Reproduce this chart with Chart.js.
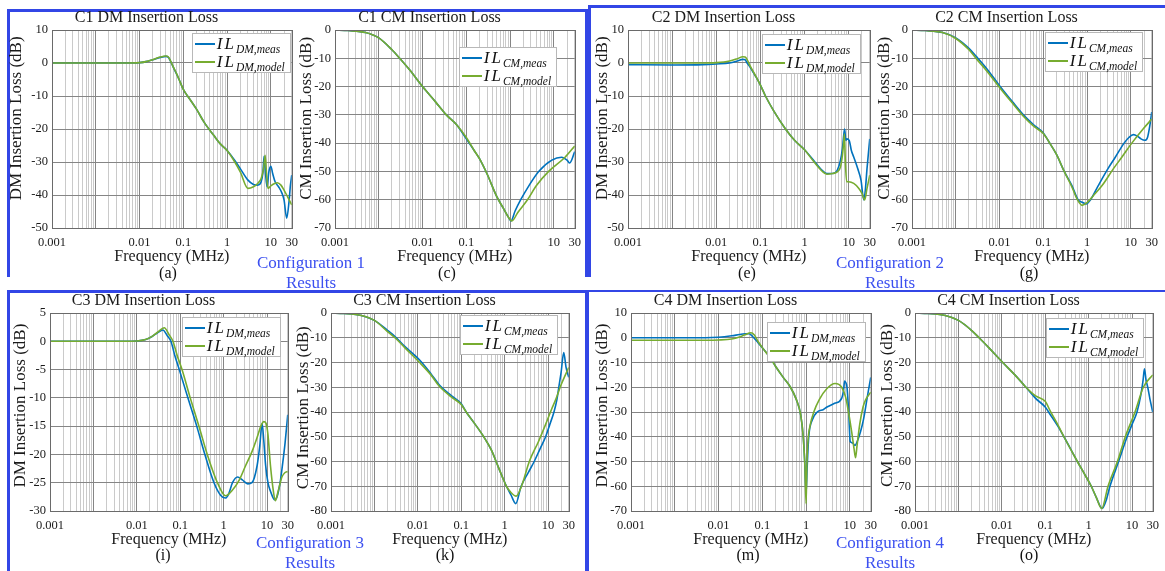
<!DOCTYPE html>
<html>
<head>
<meta charset="utf-8">
<script src="https://cdn.jsdelivr.net/npm/chart.js@4.4.1/dist/chart.umd.min.js"></script>
<style>
  html, body { margin: 0; padding: 0; background: #fff; }
  #page { position: relative; width: 1165px; height: 571px; overflow: hidden; background: #fff;
          font-family: "Liberation Serif", "DejaVu Serif", serif; }
  .panel { position: absolute; }
  .frame { position: absolute; border: 0 solid #3246e6; box-sizing: border-box; }
  .caption { position: absolute; font-size: 16px; color: #111; transform: translate(-50%, -50%); white-space: nowrap; }
  .config { position: absolute; width: 170px; color: #3c50f0; font-size: 17px; line-height: 20px;
            text-align: center; overflow: hidden; }
  .legend { position: absolute; background: #fff; border: 1px solid #b8b8b8; padding: 1px 5px 1px 2px; }
  .legend .row { display: flex; align-items: center; height: 18px; white-space: nowrap; }
  .legend .swatch { width: 20px; height: 2px; margin-right: 2px; }
  .legend .il { font-style: italic; font-size: 17px; letter-spacing: 2px; color: #111; }
  .legend sub { font-size: 11.5px; font-style: italic; vertical-align: -4px; letter-spacing: 0; line-height: 0; }
</style>
</head>
<body>
<div id="page"></div>
<script>
// x axis: log frequency (MHz), tick labels as printed on the figure
const xTickValues = [1e-4, 0.01, 0.1, 1, 10, 30];
const xTickLabels = ['0.001', '0.01', '0.1', '1', '10', '30'];

// ---- C1 ----
const c1DmMeasFreq = [1e-4, 1e-3, 0.005, 0.01, 0.015, 0.02, 0.03, 0.04, 0.045, 0.05, 0.06, 0.07, 0.08, 0.1, 0.15, 0.2, 0.3, 0.5, 0.7, 1, 1.5, 2, 3, 4, 5, 6, 6.6, 7, 7.5, 8.2, 9, 10, 11, 12.5, 15, 18, 20, 23, 26, 28, 30];
const c1DmMeasIL = [0, 0, 0, 0.1, 0.5, 1.0, 1.7, 2.0, 1.8, 0.8, -1.5, -3.3, -5, -8, -11.5, -14, -18, -22, -24.5, -26.5, -29.5, -32, -35.5, -36.8, -37, -36, -33, -28.3, -33, -37.5, -33, -31.3, -33.5, -36, -37.5, -39.5, -41.5, -47, -42, -37, -34];
const c1DmModelFreq = [1e-4, 1e-3, 0.005, 0.01, 0.015, 0.02, 0.03, 0.04, 0.045, 0.05, 0.06, 0.07, 0.08, 0.1, 0.15, 0.2, 0.3, 0.5, 0.7, 1, 1.5, 2, 3, 4, 5, 6, 6.8, 7.4, 8, 8.6, 9.5, 11, 14, 17, 20, 24, 30];
const c1DmModelIL = [0, 0, 0, 0.1, 0.5, 1.0, 1.8, 2.1, 1.9, 0.9, -1.4, -3.2, -5, -8, -11.5, -14, -18, -22, -24.5, -26.5, -30, -33, -38, -37.5, -36.5, -35, -32, -28, -34, -38, -37.5, -36.8, -36.3, -37, -38.5, -40.5, -43];

const c1CmMeasFreq = [1e-4, 2e-4, 5e-4, 1e-3, 2e-3, 3e-3, 5e-3, 0.01, 0.02, 0.035, 0.06, 0.1, 0.15, 0.2, 0.3, 0.5, 0.7, 0.9, 1.05, 1.3, 1.75, 2.7, 4.5, 9, 15, 20, 23, 30];
const c1CmMeasIL = [0, -0.2, -0.9, -2.8, -7, -10, -14, -20, -25.5, -30, -33.5, -38.5, -42.5, -45.5, -51, -59, -63, -66, -67.5, -64, -60, -55, -50, -46, -45, -46, -47, -43];
const c1CmModelFreq = [1e-4, 2e-4, 5e-4, 1e-3, 2e-3, 3e-3, 5e-3, 0.01, 0.02, 0.035, 0.06, 0.1, 0.15, 0.2, 0.3, 0.5, 0.7, 0.9, 1.1, 1.5, 2.5, 4, 7.6, 18, 30];
const c1CmModelIL = [0, -0.2, -0.9, -2.8, -7, -10, -14, -20, -25.5, -30, -33.5, -38, -42.5, -45.5, -51, -59, -63, -66, -67.5, -64.5, -60, -55, -50, -45, -41];

// ---- C2 ----
const c2DmMeasFreq = [1e-4, 1e-3, 0.005, 0.01, 0.02, 0.03, 0.04, 0.045, 0.05, 0.06, 0.07, 0.08, 0.1, 0.13, 0.2, 0.37, 0.6, 1, 1.6, 2.5, 3.2, 4.3, 5.5, 6.5, 7.2, 7.7, 8.1, 8.6, 9.1, 10.3, 11.5, 13, 16, 19, 22, 24, 26, 30];
const c2DmMeasIL = [-0.5, -0.6, -0.5, -0.3, 0, 0.6, 1.1, 1.0, 0, -1.5, -3, -4.3, -6.7, -10, -14.5, -20, -23.5, -26.3, -29.5, -32.5, -33.5, -33.5, -32.5, -29.5, -26, -22, -20, -23.5, -23, -23.5, -26.5, -28.5, -32, -35.5, -41.5, -38, -32, -23];
const c2DmModelFreq = [1e-4, 1e-3, 0.005, 0.01, 0.02, 0.03, 0.04, 0.045, 0.05, 0.06, 0.07, 0.08, 0.1, 0.13, 0.2, 0.37, 0.6, 1, 1.6, 2.5, 3.2, 4.3, 5.5, 6.5, 7.2, 7.7, 8.0, 8.4, 9.0, 10, 13, 17, 20, 23, 26, 30];
const c2DmModelIL = [0, 0, 0, 0.1, 0.6, 1.3, 1.9, 1.8, 1.0, -1.2, -2.8, -4.2, -6.7, -10, -14.5, -20, -23.5, -26.3, -29.8, -32.8, -33.7, -33.5, -33, -31.5, -28, -24, -21.5, -30, -36, -36, -36.5, -38, -39.5, -41.5, -38, -34];

const c2CmMeasFreq = [1e-4, 2e-4, 5e-4, 1e-3, 2e-3, 3e-3, 5e-3, 0.01, 0.02, 0.035, 0.06, 0.1, 0.14, 0.2, 0.3, 0.45, 0.62, 0.8, 0.95, 1.2, 1.8, 3, 4.4, 7, 9, 11.5, 14, 17, 21, 24, 27, 30];
const c2CmMeasIL = [0, -0.2, -0.9, -2.8, -6.5, -9.5, -13.5, -19.7, -25.5, -30, -33.5, -36.4, -40, -44, -50, -55, -60, -61, -61.5, -60, -55, -49, -45, -40, -38, -37, -37.5, -38.5, -39, -38, -34, -29];
const c2CmModelFreq = [1e-4, 2e-4, 5e-4, 1e-3, 2e-3, 3e-3, 5e-3, 0.01, 0.02, 0.035, 0.06, 0.1, 0.14, 0.2, 0.3, 0.45, 0.6, 0.77, 1, 1.4, 2.2, 4, 6.2, 10.5, 19, 30];
const c2CmModelIL = [0, -0.2, -0.9, -3, -7, -10.3, -14.3, -20.3, -26, -30.5, -34, -36.6, -40, -44, -50, -55.5, -60, -62, -61, -58.5, -55, -49, -45, -40, -35, -31.5];

// ---- C3 ----
const c3DmMeasFreq = [1e-4, 1e-3, 5e-3, 0.01, 0.016, 0.023, 0.03, 0.04, 0.05, 0.061, 0.075, 0.095, 0.15, 0.24, 0.37, 0.6, 0.85, 1.1, 1.3, 1.6, 2.1, 2.7, 3.6, 4.5, 5.9, 6.8, 7.7, 8.4, 9.3, 10.5, 12, 15, 17, 20, 23, 26, 30];
const c3DmMeasIL = [0, 0, 0, 0.05, 0.3, 0.9, 1.5, 2.0, 1.0, 0, -2.5, -5, -10, -15, -20, -25, -27.2, -27.7, -27, -25, -24, -24.5, -25.2, -25, -22, -18.5, -14.5, -17.5, -22, -25, -26.5, -28, -27.5, -25, -21.5, -18, -13];
const c3DmModelFreq = [1e-4, 1e-3, 5e-3, 0.01, 0.016, 0.023, 0.03, 0.043, 0.055, 0.068, 0.085, 0.11, 0.17, 0.27, 0.42, 0.72, 1.1, 1.6, 2.3, 3.2, 4.5, 5.9, 7.2, 8.4, 9.5, 10.5, 12, 14, 15.5, 18, 22, 26, 30];
const c3DmModelIL = [0, 0, 0, 0.05, 0.3, 0.9, 1.6, 2.4, 1.2, 0, -2.5, -5, -10, -15, -20, -25, -27.3, -26.3, -24.5, -22, -19.5, -17, -15, -14.2, -14.5, -16.5, -22, -26.5, -28.2, -26.5, -24, -23.2, -23];

const c3CmMeasFreq = [1e-4, 2e-4, 5e-4, 1e-3, 2e-3, 3.2e-3, 5e-3, 0.011, 0.02, 0.031, 0.06, 0.1, 0.13, 0.2, 0.33, 0.5, 0.67, 0.9, 1.1, 1.4, 1.8, 2.4, 3.5, 4.8, 6.5, 8.8, 11, 13.7, 16, 17.7, 20, 23, 26, 30];
const c3CmMeasIL = [0, -0.2, -1, -3, -7, -10, -13.5, -19, -24.5, -29, -33.5, -36.7, -40, -44.5, -50, -55.5, -61, -66.5, -70, -73.5, -77, -70, -64.5, -60, -55, -50, -45, -40, -35, -30, -24, -16, -22, -26];
const c3CmModelFreq = [1e-4, 2e-4, 5e-4, 1e-3, 2e-3, 3.2e-3, 5e-3, 0.011, 0.02, 0.031, 0.06, 0.1, 0.13, 0.2, 0.33, 0.5, 0.67, 0.9, 1.1, 1.4, 1.85, 2.5, 3.7, 6, 8.8, 12, 15, 20, 30];
const c3CmModelIL = [0, -0.2, -1, -3, -7.5, -10.5, -14, -20, -25, -29.5, -34, -37, -40, -44.5, -50, -55.5, -61, -66.5, -70, -72.5, -74, -69.5, -60, -52, -45, -39, -35, -29, -22];

// ---- C4 ----
const c4DmMeasFreq = [1e-4, 1e-3, 5e-3, 0.01, 0.02, 0.03, 0.04, 0.05, 0.06, 0.08, 0.1, 0.15, 0.2, 0.3, 0.44, 0.6, 0.75, 0.86, 0.93, 1.0, 1.06, 1.15, 1.4, 1.8, 2.5, 3, 4.5, 6.5, 7.2, 7.6, 8.0, 8.6, 9.4, 10.2, 11.5, 13, 15, 17.5, 20.5, 25, 30];
const c4DmMeasIL = [0, 0, 0, 0.2, 0.8, 1.3, 1.6, 1.6, 0.5, -2, -4, -8, -11.5, -16, -20, -25, -31, -40, -50, -63, -52, -40, -33, -30, -29, -28, -26.5, -24.5, -21, -17.5, -18, -20, -30, -42, -42.5, -43.5, -41.5, -38, -33, -24, -16];
const c4DmModelFreq = [1e-4, 1e-3, 5e-3, 0.01, 0.02, 0.03, 0.04, 0.05, 0.055, 0.065, 0.08, 0.1, 0.15, 0.2, 0.3, 0.44, 0.6, 0.75, 0.86, 0.94, 1.0, 1.04, 1.1, 1.25, 1.5, 2, 3, 4.6, 6.5, 8, 9.3, 11, 12.5, 13.5, 14.5, 16.8, 20, 23, 30];
const c4DmModelIL = [-1, -1, -1, -0.9, -0.5, 0.3, 1.2, 1.9, 2.0, 1.2, -1.5, -4, -8, -11.5, -16, -20, -25, -31, -40, -52, -67, -52, -42, -35, -30, -25, -20.5, -18.5, -20, -24, -30, -38, -45, -48.5, -44, -35, -28, -25, -22];

const c4CmMeasFreq = [1e-4, 2e-4, 5e-4, 1e-3, 2e-3, 3e-3, 5e-3, 0.0105, 0.02, 0.036, 0.06, 0.1, 0.13, 0.2, 0.27, 0.55, 0.8, 1.15, 1.5, 2.05, 2.5, 3.1, 4.9, 7.7, 10, 13, 16, 18, 19.3, 21, 23, 26, 30];
const c4CmMeasIL = [0, -0.2, -1, -3, -7, -10, -14, -20, -25, -30, -34.5, -38, -41, -46, -50, -60, -65, -70, -74.5, -79, -76, -70, -60, -50, -45, -40, -33, -27, -22.5, -27, -30, -35, -40];
const c4CmModelFreq = [1e-4, 2e-4, 5e-4, 1e-3, 2e-3, 3e-3, 5e-3, 0.0105, 0.02, 0.036, 0.06, 0.1, 0.13, 0.2, 0.27, 0.55, 0.8, 1.15, 1.5, 2.0, 2.8, 4.6, 7, 11.7, 18.2, 30];
const c4CmModelIL = [0, -0.2, -1, -3, -7, -10, -14, -20, -25, -30, -33.5, -35.7, -39.5, -45.5, -50, -60, -65, -70, -74.5, -79, -70, -60, -50, -40, -30, -25];

const measColor = '#0072bd';
const modelColor = '#77ac30';
const majorGrid = '#858585';
const minorGrid = '#cacaca';
const fontFamily = '"Liberation Serif", "DejaVu Serif", serif';

Chart.defaults.font.family = fontFamily;
Chart.defaults.color = '#1a1a1a';

// layout of each subplot (plot area in page pixels) - not data
const panels = [
    { tag: 'a', title: 'C1 DM Insertion Loss', kind: 'DM', plot: [52, 30, 293, 228], y: [-50, 10, 10], yOff: -35, yShift: 5, leg: [1, 3], cap: [168, 273], meas: [c1DmMeasFreq, c1DmMeasIL], model: [c1DmModelFreq, c1DmModelIL] },
    { tag: 'c', title: 'C1 CM Insertion Loss', kind: 'CM', plot: [335, 30, 576, 228], y: [-70, 0, 10], yOff: -28, yShift: 5, leg: [18, 17], cap: [447, 273], meas: [c1CmMeasFreq, c1CmMeasIL], model: [c1CmModelFreq, c1CmModelIL] },
    { tag: 'e', title: 'C2 DM Insertion Loss', kind: 'DM', plot: [628, 30, 871, 228], y: [-50, 10, 10], yOff: -25.5, yShift: 5, leg: [9, 4], cap: [747, 273], meas: [c2DmMeasFreq, c2DmMeasIL], model: [c2DmModelFreq, c2DmModelIL] },
    { tag: 'g', title: 'C2 CM Insertion Loss', kind: 'CM', plot: [912, 30, 1153, 228], y: [-70, 0, 10], yOff: -27, yShift: 5, leg: [9, 2], cap: [1029, 273], meas: [c2CmMeasFreq, c2CmMeasIL], model: [c2CmModelFreq, c2CmModelIL] },
    { tag: 'i', title: 'C3 DM Insertion Loss', kind: 'DM', plot: [50, 313, 289, 511], y: [-30, 5, 5], yOff: -29, yShift: 3, leg: [7, 4], cap: [163, 555], meas: [c3DmMeasFreq, c3DmMeasIL], model: [c3DmModelFreq, c3DmModelIL] },
    { tag: 'k', title: 'C3 CM Insertion Loss', kind: 'CM', plot: [331, 313, 570, 511], y: [-80, 0, 10], yOff: -27, yShift: 2, leg: [11, 2], cap: [445, 555], meas: [c3CmMeasFreq, c3CmMeasIL], model: [c3CmModelFreq, c3CmModelIL] },
    { tag: 'm', title: 'C4 DM Insertion Loss', kind: 'DM', plot: [631, 313, 872, 511], y: [-70, 10, 10], yOff: -28.5, yShift: 3, leg: [5, 9], cap: [748, 555], meas: [c4DmMeasFreq, c4DmMeasIL], model: [c4DmModelFreq, c4DmModelIL] },
    { tag: 'o', title: 'C4 CM Insertion Loss', kind: 'CM', plot: [915, 313, 1154, 511], y: [-80, 0, 10], yOff: -27.5, yShift: 3, leg: [9, 5], cap: [1029, 555], meas: [c4CmMeasFreq, c4CmMeasIL], model: [c4CmModelFreq, c4CmModelIL] },
];

const configs = [
    { text: 'Configuration 1', x: 311, y: 253 },
    { text: 'Configuration 2', x: 890, y: 253 },
    { text: 'Configuration 3', x: 310, y: 533 },
    { text: 'Configuration 4', x: 890, y: 533 },
];

const YW = 52, TH = 30, XH = 46, RP = 12;

// log grid: every 1..9 x decade, stopping at 30
const gridValues = [];
for (let e = -4; e <= 1; e++) {
    for (let k = 1; k <= 9; k++) {
        const v = Number((k * Math.pow(10, e)).toPrecision(6));
        if (v <= 30) gridValues.push(v);
    }
}

function isDecade(v) {
    const l = Math.log10(v);
    return Math.abs(l - Math.round(l)) < 1e-6;
}

function tickLabel(v) {
    for (let i = 0; i < xTickValues.length; i++) {
        if (Math.abs(v - xTickValues[i]) / xTickValues[i] < 1e-6) return xTickLabels[i];
    }
    return '';
}

const boxFrame = {
    id: 'boxFrame',
    afterDatasetsDraw(chart) {
        const { ctx, chartArea: a } = chart;
        ctx.save();
        ctx.strokeStyle = '#6a6a6a';
        ctx.lineWidth = 1;
        ctx.strokeRect(Math.round(a.left) + 0.5, Math.round(a.top) + 0.5,
            Math.round(a.right - a.left), Math.round(a.bottom - a.top));
        ctx.restore();
    }
};

function toPoints(freq, il) {
    return freq.map((f, i) => ({ x: f, y: il[i] }));
}

const page = document.getElementById('page');

function addFrame(left, top, width, height, sides) {
    const d = document.createElement('div');
    d.className = 'frame';
    d.style.left = left + 'px';
    d.style.top = top + 'px';
    d.style.width = width + 'px';
    d.style.height = height + 'px';
    d.style.borderTopWidth = (sides.t || 0) + 'px';
    d.style.borderLeftWidth = (sides.l || 0) + 'px';
    d.style.borderRightWidth = (sides.r || 0) + 'px';
    page.appendChild(d);
}

addFrame(7, 9, 581, 268, { t: 3, l: 3, r: 3 });
addFrame(588, 5, 600, 272, { t: 3, l: 3 });
addFrame(7, 290, 581, 300, { t: 3, l: 3, r: 3 });
addFrame(586, 290, 600, 300, { t: 2, l: 3 });

function buildPanel(p) {
    const [L, T, R, B] = p.plot;
    const cw = (R - L) + YW + RP;
    const ch = (B - T) + TH + XH;
    const left = L - YW, top = T - TH;

    const wrap = document.createElement('div');
    wrap.className = 'panel';
    wrap.style.left = left + 'px';
    wrap.style.top = top + 'px';
    const canvas = document.createElement('canvas');
    canvas.width = cw;
    canvas.height = ch;
    canvas.style.width = cw + 'px';
    canvas.style.height = ch + 'px';
    wrap.appendChild(canvas);
    page.appendChild(wrap);

    const yTitleLh = 17 * 1.2;
    const chart = new Chart(canvas.getContext('2d'), {
        type: 'line',
        data: {
            datasets: [
                {
                    label: 'IL ' + p.kind + ',meas',
                    data: toPoints(p.meas[0], p.meas[1]),
                    borderColor: measColor,
                    borderWidth: 1.6,
                    pointRadius: 0,
                    cubicInterpolationMode: 'monotone',
                    order: 1,
                },
                {
                    label: 'IL ' + p.kind + ',model',
                    data: toPoints(p.model[0], p.model[1]),
                    borderColor: modelColor,
                    borderWidth: 1.6,
                    pointRadius: 0,
                    cubicInterpolationMode: 'monotone',
                    order: 0,
                },
            ]
        },
        options: {
            responsive: false,
            animation: false,
            devicePixelRatio: 1,
            events: [],
            layout: { padding: { left: 0, top: 0, right: RP, bottom: 0 } },
            plugins: {
                legend: { display: false },
                tooltip: { enabled: false },
                title: {
                    display: true,
                    text: p.title,
                    color: '#1a1a1a',
                    font: { family: fontFamily, size: 16, weight: 'normal', lineHeight: 1.2 },
                    padding: { top: 8.4, bottom: 2.4 },
                },
            },
            scales: {
                x: {
                    type: 'logarithmic',
                    min: 1e-4,
                    max: 30,
                    afterBuildTicks: scale => { scale.ticks = gridValues.map(v => ({ value: v })); },
                    afterFit: scale => { scale.height = XH; },
                    ticks: {
                        autoSkip: false,
                        maxRotation: 0,
                        minRotation: 0,
                        padding: 7,
                        color: '#1a1a1a',
                        font: { family: fontFamily, size: 12.5, weight: 'normal' },
                        callback: v => tickLabel(v),
                    },
                    grid: {
                        drawTicks: false,
                        lineWidth: 1,
                        color: c => (c.tick && isDecade(c.tick.value)) ? majorGrid : minorGrid,
                    },
                    border: { display: false },
                    title: {
                        display: true,
                        text: 'Frequency (MHz)',
                        color: '#1a1a1a',
                        font: { family: fontFamily, size: 16, weight: 'normal', lineHeight: 1.2 },
                        padding: { top: 0, bottom: 7.4 },
                    },
                },
                y: {
                    type: 'linear',
                    min: p.y[0],
                    max: p.y[1],
                    afterFit: scale => { scale.width = YW; },
                    ticks: {
                        stepSize: p.y[2],
                        padding: 4,
                        color: '#1a1a1a',
                        font: { family: fontFamily, size: 12.5, weight: 'normal' },
                    },
                    grid: { drawTicks: false, lineWidth: 1, color: majorGrid },
                    border: { display: false },
                    title: {
                        display: true,
                        // leading spaces nudge the label up like the original
                        text: ' '.repeat(p.yShift) + p.kind + ' Insertion Loss (dB)',
                        color: '#1a1a1a',
                        font: { family: fontFamily, size: 17, weight: 'normal', lineHeight: 1.2 },
                        padding: { top: YW + p.yOff - yTitleLh / 2, bottom: 0 },
                    },
                },
            },
        },
        plugins: [boxFrame],
    });

    // legend with subscripts as html
    const leg = document.createElement('div');
    leg.className = 'legend';
    leg.innerHTML =
        '<div class="row"><span class="swatch" style="background:' + measColor + '"></span>' +
        '<span class="il">IL<sub>' + p.kind + ',meas</sub></span></div>' +
        '<div class="row"><span class="swatch" style="background:' + modelColor + '"></span>' +
        '<span class="il">IL<sub>' + p.kind + ',model</sub></span></div>';
    page.appendChild(leg);
    const a = chart.chartArea;
    leg.style.left = (left + a.right - p.leg[0] - leg.offsetWidth) + 'px';
    leg.style.top = (top + a.top + p.leg[1]) + 'px';

    const cap = document.createElement('div');
    cap.className = 'caption';
    cap.textContent = '(' + p.tag + ')';
    cap.style.left = p.cap[0] + 'px';
    cap.style.top = p.cap[1] + 'px';
    page.appendChild(cap);
}

panels.forEach(buildPanel);

configs.forEach(c => {
    const d = document.createElement('div');
    d.className = 'config';
    d.style.left = (c.x - 85) + 'px';
    d.style.top = c.y + 'px';
    d.style.height = (c.y < 300 ? 36 : 40) + 'px';
    d.innerHTML = c.text + '<br>Results';
    page.appendChild(d);
});
</script>
</body>
</html>
